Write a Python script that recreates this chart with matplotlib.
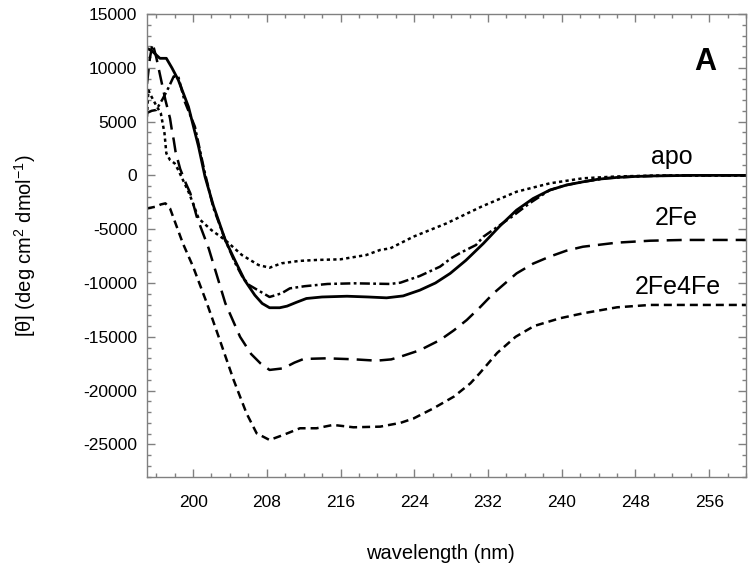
import numpy as np
import matplotlib
matplotlib.use("Agg")
import matplotlib.pyplot as plt
from matplotlib.ticker import MultipleLocator

plt.rcParams['font.family'] = ['Liberation Sans', 'DejaVu Sans']
plt.rcParams['mathtext.fontset'] = 'custom'
plt.rcParams['mathtext.rm'] = 'Liberation Sans'
plt.rcParams['mathtext.default'] = 'regular'
plt.rcParams['axes.unicode_minus'] = False

# solid trace
wl_solid = [195.0, 195.5, 196.0, 196.4, 197.1, 197.7, 198.4, 199.5, 200.6, 201.3, 202.2,
            203.5, 204.6, 205.6, 206.7, 207.5, 208.3, 209.4, 210.2, 211.2, 212.3, 214.0,
            216.7, 219.0, 221.0, 222.8, 224.6, 226.3, 227.9, 229.6, 231.5, 233.3, 235.1,
            236.9, 238.7, 240.5, 242.3, 244.0, 246.0, 248.0, 250.0, 254.0, 260.0]
cd_solid = [11800, 11600, 11200, 10880, 10880, 10000, 8860, 6380, 2660, -130, -2800,
            -6020, -8000, -9740, -11130, -11900, -12300, -12300, -12150, -11800, -11440, -11300,
            -11230, -11300, -11380, -11200, -10670, -10000, -9110, -7900, -6330, -4700, -3230,
            -2150, -1370, -900, -600, -350, -190, -100, -50, 0, 0]

# dotted trace
wl_dot = [195.0, 195.15, 195.5, 196.0, 196.5, 196.9, 197.1, 197.5, 198.0, 198.4, 199.5,
          200.0, 200.6, 202.0, 203.5, 205.3, 207.1, 208.3, 209.6, 211.5, 213.4, 216.0,
          218.8, 220.3, 221.4, 223.9, 227.5, 231.3, 235.1, 238.7, 242.3, 246.0, 250.0, 260.0]
cd_dot = [5460, 7900, 7300, 6500, 5770, 3910, 2050, 1430, 1120, 490, -1520,
          -2600, -4000, -5090, -6020, -7400, -8330, -8580, -8170, -7950, -7860, -7800,
          -7400, -6930, -6780, -5700, -4460, -2900, -1520, -740, -270, -100, -20, 0]

# dash-dot trace
wl_dd = [195.0, 195.5, 196.0, 196.7, 197.3, 197.9, 198.4, 199.1, 200.2, 200.9, 201.3,
         202.2, 203.5, 204.6, 205.4, 206.1, 207.3, 208.3, 209.6, 210.5, 212.1, 214.6,
         217.5, 221.4, 222.5, 224.6, 226.8, 228.0, 229.0, 230.7, 231.5, 234.6, 236.5,
         238.7, 240.5, 242.3, 245.0, 248.0, 250.0, 254.0, 260.0]
cd_dd = [5800, 6000, 6080, 7100, 8090, 9200, 9170, 6850, 4520, 1730, 160,
         -3000, -6020, -8200, -9500, -10200, -10800, -11300, -10960, -10500, -10300, -10090,
         -10030, -10090, -9970, -9350, -8480, -7700, -7200, -6470, -5700, -3840, -2600,
         -1370, -900, -600, -250, -100, -50, 0, 0]

# 2Fe, long dashes
wl_2fe = [195.0, 195.3, 195.6, 196.0, 196.5, 197.0, 197.5, 197.7, 197.9, 198.1, 198.6,
          199.2, 199.7, 200.4, 201.7, 203.5, 205.1, 206.3, 207.3, 208.3, 209.8, 211.0,
          212.0, 214.5, 217.4, 219.9, 221.5, 222.5, 224.6, 226.8, 228.3, 229.7, 231.2,
          232.6, 235.1, 236.9, 238.7, 240.5, 242.3, 246.0, 249.6, 253.2, 260.0]
cd_2fe = [8500, 10800, 12300, 11000, 9000, 7000, 5300, 4200, 3300, 2200, 600,
          -700, -1660, -3840, -6800, -11880, -15000, -16600, -17460, -18080, -17930, -17400,
          -17060, -17000, -17090, -17220, -17100, -16850, -16250, -15300, -14400, -13440, -12200,
          -10960, -9110, -8200, -7550, -7000, -6630, -6250, -6070, -6000, -6000]

# 2Fe4Fe, short dashes
wl_4fe = [195.0, 196.0, 196.5, 197.0, 197.5, 198.2, 198.9, 200.0, 201.5, 202.9, 204.4,
          205.8, 206.9, 208.3, 209.8, 211.6, 213.4, 215.2, 217.4, 220.3, 222.5, 223.9,
          226.1, 228.3, 230.1, 231.1, 233.0, 235.0, 237.0, 239.8, 242.3, 246.0, 249.6, 260.0]
cd_4fe = [-3070, -2900, -2700, -2600, -3070, -4700, -6330, -8480, -11880, -15300, -19010,
          -22110, -23970, -24590, -24120, -23500, -23500, -23190, -23410, -23350, -23000, -22600,
          -21640, -20560, -19320, -18390, -16500, -15000, -14000, -13280, -12820, -12260, -12040, -12040]

labels = ["apo", "2Fe", "2Fe4Fe"]
label_wl = [252.0, 252.4, 252.6]
label_cd = [1700, -3970, -10390]

fig = plt.figure(figsize=(7.53, 5.73), dpi=100)
ax = fig.add_axes([0.1952, 0.1681, 0.7955, 0.8075])

lw = 1.8
ax.plot(wl_solid, cd_solid, color="black", lw=2.0)
ax.plot(wl_dot, cd_dot, color="black", lw=lw, dashes=(1.3, 1.3))
ax.plot(wl_dd, cd_dd, color="black", lw=lw, dashes=(4.0, 1.35, 1.1, 1.35))
ax.plot(wl_2fe, cd_2fe, color="black", lw=lw, dashes=(6.0, 3.2))
ax.plot(wl_4fe, cd_4fe, color="black", lw=lw, dashes=(3.2, 2.0))

for t, x, y in zip(labels, label_wl, label_cd):
  ax.text(x, y, t, fontsize=18, ha="center", va="center")
ax.text(0.932, 0.896, "A", transform=ax.transAxes, fontsize=22,
        fontweight="bold", ha="center", va="center")

ax.set_xlim(195, 260)
ax.set_ylim(-28000, 15000)
ax.xaxis.set_major_locator(MultipleLocator(8))
ax.xaxis.set_minor_locator(MultipleLocator(2))
ax.yaxis.set_major_locator(MultipleLocator(5000))
ax.yaxis.set_minor_locator(MultipleLocator(1000))
ax.set_xticks(np.arange(200, 260, 8))

for s in ax.spines.values():
  s.set_color("#808080")
  s.set_linewidth(1)
ax.tick_params(which="both", direction="in", top=True, right=True, color="#808080", width=1)
ax.tick_params(which="major", length=6, labelsize=12.5)
ax.tick_params(which="minor", length=3)
ax.tick_params(axis="x", pad=13)
ax.tick_params(axis="y", pad=7)

ax.set_xlabel("wavelength (nm)", fontsize=14.5)
ax.set_ylabel(r"[θ] (deg cm$^{2}$ dmol$^{-1}$)", fontsize=14.5)
ax.xaxis.set_label_coords(0.49, -0.145)
ax.yaxis.set_label_coords(-0.182, 0.5)

fig.savefig("out.png", dpi=100)
